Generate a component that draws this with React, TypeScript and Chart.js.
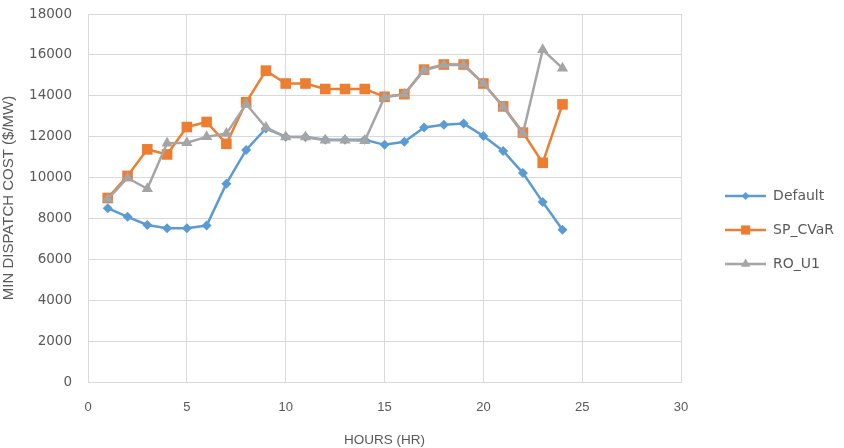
import React, { useEffect, useRef } from "react";
import { Chart, registerables } from "chart.js";
import { drawPoint } from "chart.js/helpers";

Chart.register(...registerables);

const hours = [1, 2, 3, 4, 5, 6, 7, 8, 9, 10, 11, 12, 13, 14, 15, 16, 17, 18, 19, 20, 21, 22, 23, 24];
const defaultCost = [8500, 8080, 7680, 7520, 7520, 7650, 9700, 11350, 12400, 12000, 11980, 11850, 11850, 11850, 11600, 11750, 12450, 12580, 12640, 12030, 11300, 10220, 8800, 7450];
const spCvarCost = [9000, 10080, 11380, 11130, 12470, 12720, 11650, 13680, 15230, 14600, 14600, 14330, 14330, 14330, 13950, 14080, 15280, 15530, 15530, 14600, 13480, 12200, 10720, 13580];
const roU1Cost = [8950, 9980, 9450, 11680, 11700, 11990, 12150, 13600, 12450, 11980, 11980, 11820, 11820, 11800, 13930, 14070, 15250, 15500, 15500, 14600, 13450, 12150, 16250, 15350];
const seriesNames = ["Default", "SP_CVaR", "RO_U1"];
const xTitle = "HOURS (HR)";
const yTitle = "MIN DISPATCH COST ($/MW)";

const BLUE = "#5B9BD5";
const ORANGE = "#ED7D31";
const GREY = "#A5A5A5";
const TEXT = "#595959";
const GRID = "#D9D9D9";

function legendIcon(color: string, style: string, radius: number) {
  const c = document.createElement("canvas");
  c.width = 41;
  c.height = 16;
  const ctx = c.getContext("2d")!;
  ctx.strokeStyle = color;
  ctx.lineWidth = 2.5;
  ctx.beginPath();
  ctx.moveTo(0, 8);
  ctx.lineTo(41, 8);
  ctx.stroke();
  ctx.fillStyle = color;
  drawPoint(ctx, { pointStyle: style as any, rotation: 0, radius, borderWidth: 0 }, 20.5, 8);
  return c;
}

export default function App() {
  const ref = useRef<HTMLCanvasElement>(null);
  useEffect(() => {
    if (!ref.current) return;
    const mk = (vals: number[]) => vals.map((v, i) => ({ x: hours[i], y: v }));
    const icons = [
      legendIcon(BLUE, "rectRot", 4),
      legendIcon(ORANGE, "rect", 6.5),
      legendIcon(GREY, "triangle", 5.5),
    ];
    const chart = new Chart(ref.current, {
      type: "line",
      data: {
        datasets: [
          {
            label: seriesNames[0],
            data: mk(defaultCost),
            borderColor: BLUE,
            backgroundColor: BLUE,
            borderWidth: 2.5,
            pointStyle: "rectRot",
            pointRadius: 5,
            pointBorderWidth: 0,
            order: 3,
          },
          {
            label: seriesNames[1],
            data: mk(spCvarCost),
            borderColor: ORANGE,
            backgroundColor: ORANGE,
            borderWidth: 2.5,
            pointStyle: "rect",
            pointRadius: 7.5,
            pointBorderWidth: 0,
            order: 2,
          },
          {
            label: seriesNames[2],
            data: mk(roU1Cost),
            borderColor: GREY,
            backgroundColor: GREY,
            borderWidth: 2.5,
            pointStyle: "triangle",
            pointRadius: 6.5,
            pointBorderWidth: 0,
            order: 1,
          },
        ],
      },
      options: {
        responsive: false,
        animation: false,
        layout: { padding: { top: 0, left: 0, right: 0, bottom: 0 } },
        plugins: {
          tooltip: { enabled: false },
          legend: {
            position: "right",
            title: { display: true, text: " ", font: { size: 10 }, padding: 0 },
            labels: {
              usePointStyle: true,
              pointStyleWidth: 41,
              padding: 20,
              color: TEXT,
              font: { family: "'DejaVu Sans'", size: 14 },
              sort: (a: any, b: any) => a.datasetIndex - b.datasetIndex,
              generateLabels: (ch: any) =>
                ch.data.datasets.map((ds: any, i: number) => ({
                  text: ds.label,
                  datasetIndex: i,
                  pointStyle: icons[i],
                  fillStyle: ds.borderColor,
                  strokeStyle: ds.borderColor,
                  lineWidth: 0,
                  fontColor: TEXT,
                  hidden: false,
                })),
            },
          },
        },
        scales: {
          x: {
            type: "linear",
            min: 0,
            max: 30,
            ticks: {
              stepSize: 5,
              color: TEXT,
              padding: 18,
              font: { family: "'Liberation Sans'", size: 13 },
            },
            grid: { color: GRID, lineWidth: 1, drawTicks: false },
            border: { color: GRID },
            title: {
              display: true,
              text: xTitle,
              color: TEXT,
              font: { family: "'Liberation Sans'", size: 13.5 },
              padding: { top: 4, bottom: 0 },
            },
            afterFit: (s: any) => {
              s.height = 66;
            },
          },
          y: {
            min: 0,
            max: 18000,
            ticks: {
              stepSize: 2000,
              color: TEXT,
              padding: 16,
              font: { family: "'DejaVu Sans'", size: 13.5 },
              callback: (v: any) => String(v),
            },
            grid: { color: GRID, lineWidth: 1, drawTicks: false },
            border: { color: GRID },
            title: {
              display: true,
              text: yTitle,
              color: TEXT,
              font: { family: "'Liberation Sans'", size: 15 },
              padding: { top: 0, bottom: 0 },
            },
            afterFit: (s: any) => {
              s.width = 88;
              s.paddingTop = 14;
              s.paddingBottom = 8;
            },
          },
          gap: {
            type: "linear",
            position: "right",
            display: true,
            ticks: { display: false },
            grid: { display: false, drawTicks: false },
            border: { display: false },
            afterFit: (s: any) => {
              s.width = 24;
              s.paddingTop = 0;
              s.paddingBottom = 0;
            },
          },
        },
      },
    });
    return () => chart.destroy();
  }, []);
  return (
    <div style={{ position: "fixed", left: 0, top: 0, width: 844, height: 448, background: "#fff" }}>
      <canvas ref={ref} width={844} height={448} />
    </div>
  );
}
